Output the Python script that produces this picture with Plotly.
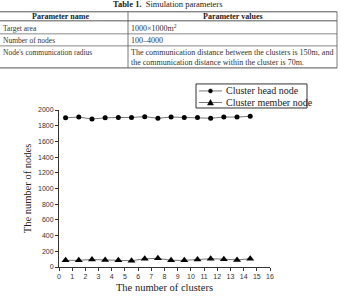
import plotly.graph_objects as go

# ---- data ----
clusters = [0.5, 1.5, 2.5, 3.5, 4.5, 5.5, 6.5, 7.5, 8.5, 9.5, 10.5, 11.5, 12.5, 13.5, 14.5]
head_nodes = [1900, 1910, 1885, 1900, 1905, 1905, 1915, 1895, 1910, 1905, 1905, 1895, 1910, 1910, 1920]
member_nodes = [85, 85, 95, 90, 85, 80, 105, 110, 85, 85, 95, 105, 100, 90, 105]
series_names = ["Cluster head node", "Cluster member node"]

table_title = "<b>Table 1.</b>  Simulation parameters"
table_header = ["Parameter name", "Parameter values"]
table_names = ["Target area", "Number of nodes", "Node's communication radius"]
table_values = ["1000×1000m<sup>2</sup>", "100–4000",
                "The communication distance between the clusters is 150m, and<br>the communication distance within the cluster is 70m."]

W, H = 341, 296
L, R, T, B = 59, 270, 110, 266.7


def px(x):
    return (x - L) / (R - L)


def py(y):
    return (B - y) / (B - T)


LINE_C = "#777777"
fig = go.Figure()
fig.add_trace(go.Scatter(x=clusters, y=head_nodes, mode="lines+markers", name=series_names[0],
                         line=dict(color=LINE_C, width=1),
                         marker=dict(symbol="circle", size=5, color="black")))
fig.add_trace(go.Scatter(x=clusters, y=member_nodes, mode="lines+markers", name=series_names[1],
                         line=dict(color=LINE_C, width=1),
                         marker=dict(symbol="triangle-up", size=7, color="black")))

shapes = []
# table rules
for yy, w in [(12, 1), (21, 1), (34, 0.7), (46, 0.7), (68, 1)]:
    shapes.append(dict(type="line", xref="paper", yref="paper", x0=px(-10), x1=px(337),
                       y0=py(yy), y1=py(yy), line=dict(color="#555555", width=w)))
for xx in [128, 337]:
    shapes.append(dict(type="line", xref="paper", yref="paper", x0=px(xx), x1=px(xx),
                       y0=py(12), y1=py(68), line=dict(color="#555555", width=0.8)))

# manual legend
shapes.append(dict(type="rect", xref="paper", yref="paper", x0=px(196), x1=px(307), y0=py(84), y1=py(108),
                   line=dict(color="#333", width=1), fillcolor="white"))
for yy in [91, 102.5]:
    shapes.append(dict(type="line", xref="paper", yref="paper", x0=px(199), x1=px(222), y0=py(yy), y1=py(yy),
                       line=dict(color=LINE_C, width=1)))
shapes.append(dict(type="circle", xref="paper", yref="paper", x0=px(208.5), x1=px(212.5), y0=py(89), y1=py(93),
                   line=dict(color="black", width=0.5), fillcolor="black"))
shapes.append(dict(type="path", xref="paper", yref="paper",
                   path="M {:.4f},{:.4f} L {:.4f},{:.4f} L {:.4f},{:.4f} Z".format(
                       px(207.5), py(105), px(213.5), py(105), px(210.5), py(99.5)),
                   line=dict(color="black", width=0.5), fillcolor="black"))

serif = "Liberation Serif, Times New Roman, serif"
ann = []
ann.append(dict(text=table_title, x=px(167), y=py(4.5), xref="paper", yref="paper", showarrow=False,
                xanchor="center", yanchor="middle", font=dict(family=serif, size=8.5, color="#222")))
ann.append(dict(text="<b>" + table_header[0] + "</b>", x=px(60), y=py(16.5), xref="paper", yref="paper",
                showarrow=False, xanchor="center", yanchor="middle", font=dict(family=serif, size=8, color="#222")))
ann.append(dict(text="<b>" + table_header[1] + "</b>", x=px(233), y=py(16.5), xref="paper", yref="paper",
                showarrow=False, xanchor="center", yanchor="middle", font=dict(family=serif, size=8, color="#222")))
row_y = [28.5, 40.5, 57.5]
name_y = [28.5, 40.5, 53]
for nm, val, yy, ny in zip(table_names, table_values, row_y, name_y):
    ann.append(dict(text=nm, x=px(1), y=py(ny), xref="paper", yref="paper",
                    showarrow=False, xanchor="left", yanchor="middle", align="left",
                    font=dict(family=serif, size=7.5, color="#333")))
    ann.append(dict(text=val, x=px(128.5), y=py(yy), xref="paper", yref="paper",
                    showarrow=False, xanchor="left", yanchor="middle", align="left",
                    font=dict(family=serif, size=8, color="#333")))
for nm, yy in zip(series_names, [91, 102.5]):
    ann.append(dict(text=nm, x=px(224), y=py(yy), xref="paper", yref="paper",
                    showarrow=False, xanchor="left", yanchor="middle",
                    font=dict(family=serif, size=10, color="#222")))

fig.update_layout(
    width=W, height=H,
    margin=dict(l=L, r=W - R, t=T, b=H - B, pad=0),
    paper_bgcolor="white", plot_bgcolor="white",
    showlegend=False,
    shapes=shapes, annotations=ann,
    xaxis=dict(range=[0, 16], dtick=1, tick0=0, showgrid=False, zeroline=False, automargin=False,
               showline=True, linecolor="#333", linewidth=1, ticks="outside", ticklen=3,
               tickcolor="#333", tickfont=dict(family="Liberation Sans, Arial", size=7, color="#333"),
               title=dict(text="The number of clusters", font=dict(family=serif, size=10.5, color="#222"), standoff=4)),
    yaxis=dict(range=[0, 2000], dtick=200, tick0=0, showgrid=False, zeroline=False, automargin=False,
               showline=True, linecolor="#333", linewidth=1, ticks="outside", ticklen=3,
               tickcolor="#333", tickfont=dict(family="Liberation Sans, Arial", size=7, color="#333"),
               title=dict(text="The number of nodes", font=dict(family=serif, size=10.5, color="#222"), standoff=4)),
)

fig.write_html("out.html")
